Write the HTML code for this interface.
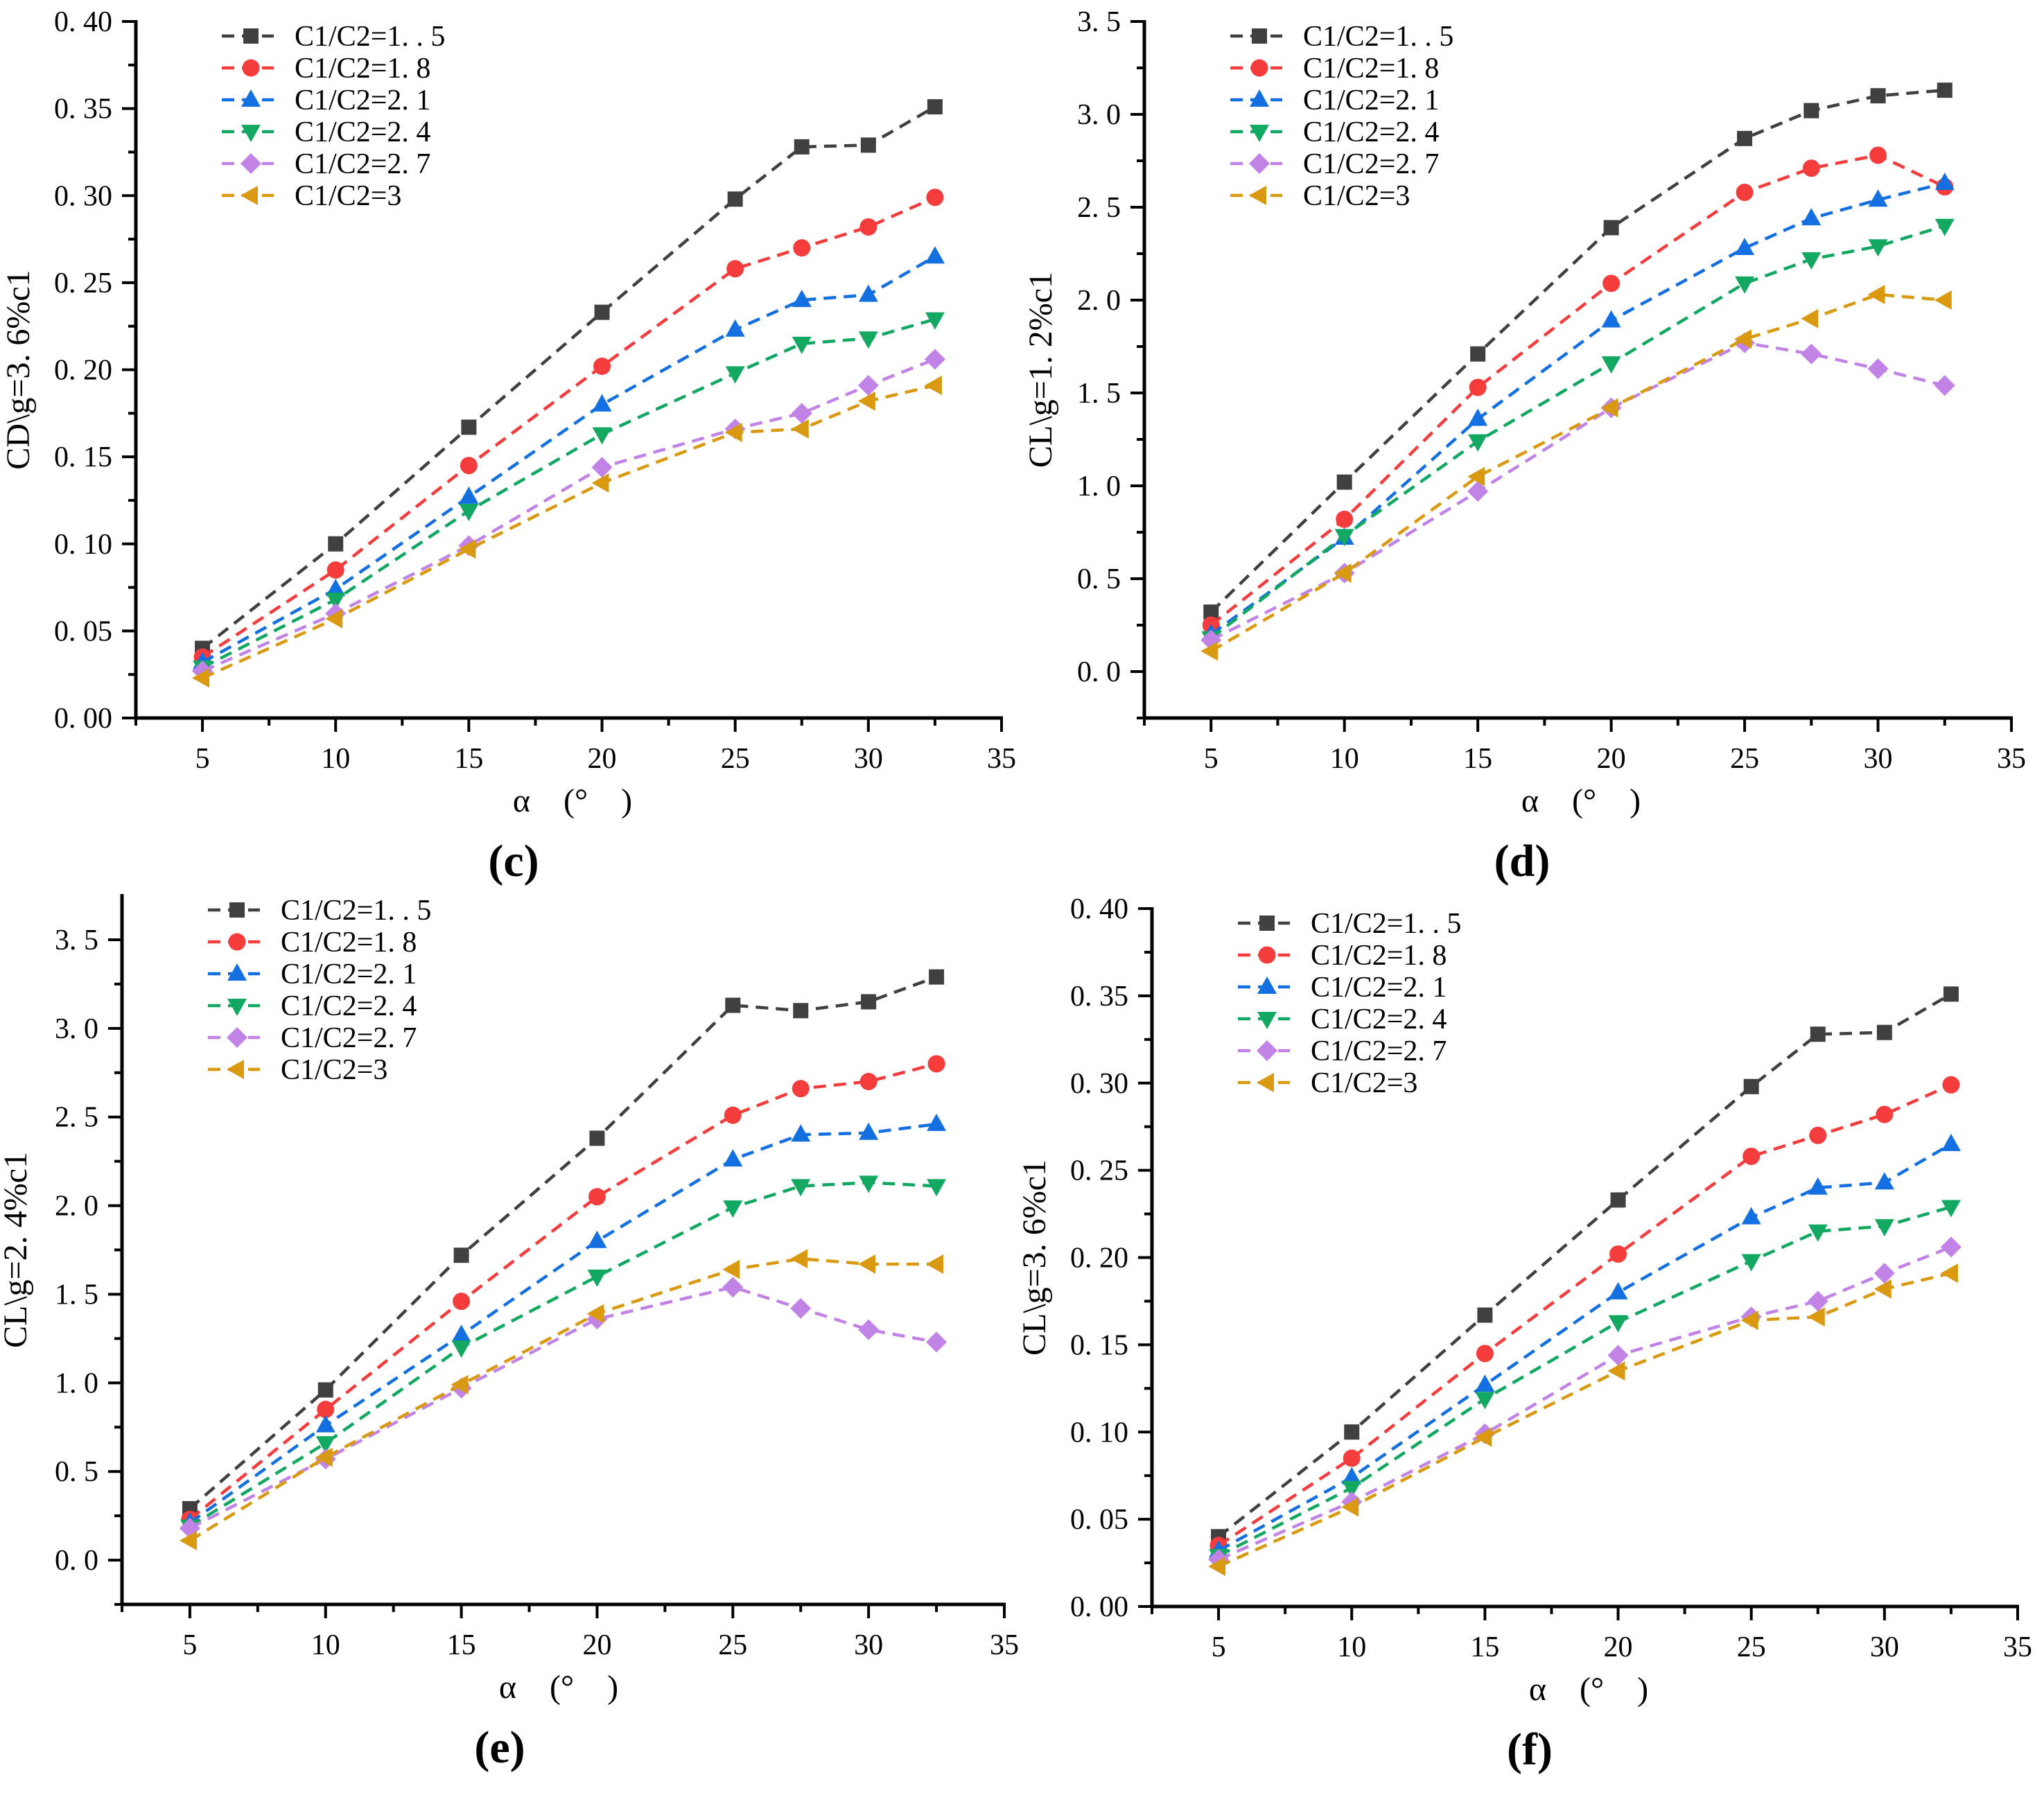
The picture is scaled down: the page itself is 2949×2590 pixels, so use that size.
<!DOCTYPE html>
<html><head><meta charset="utf-8"><style>
html,body{margin:0;padding:0;background:#fff;}
svg{display:block;}
text{font-family:"Liberation Serif","Noto Serif CJK SC",serif;}
.pre{white-space:pre;}
</style></head>
<body>
<svg id="fig" width="2949" height="2590" viewBox="0 0 2949 2590" xmlns="http://www.w3.org/2000/svg"></svg>
<script>
const xValues=[5,10,15,20,25,27.5,30,32.5];
const seriesNames=["C1/C2=1. . 5","C1/C2=1. 8","C1/C2=2. 1","C1/C2=2. 4","C1/C2=2. 7","C1/C2=3"];
const cdData15=[.040,.100,.167,.233,.298,.328,.329,.351];
const cdData18=[.035,.085,.145,.202,.258,.270,.282,.299];
const cdData21=[.032,.074,.127,.180,.223,.240,.243,.265];
const cdData24=[.029,.068,.119,.163,.198,.215,.218,.229];
const cdData27=[.027,.060,.099,.144,.166,.175,.191,.206];
const cdData30=[.023,.057,.097,.135,.164,.166,.182,.191];
const d15=[.32,1.02,1.71,2.39,2.87,3.02,3.10,3.13];
const d18=[.25,.82,1.53,2.09,2.58,2.71,2.78,2.61];
const d21=[.20,.72,1.36,1.89,2.28,2.44,2.54,2.63];
const d24=[.18,.73,1.24,1.66,2.09,2.22,2.29,2.40];
const d27=[.17,.53,.97,1.42,1.77,1.71,1.63,1.54];
const d30=[.11,.53,1.05,1.42,1.79,1.90,2.03,2.00];
const e15=[.29,.96,1.72,2.38,3.13,3.10,3.15,3.29];
const e18=[.23,.85,1.46,2.05,2.51,2.66,2.70,2.80];
const e21=[.21,.76,1.27,1.80,2.26,2.40,2.41,2.46];
const e24=[.19,.66,1.20,1.60,1.99,2.11,2.13,2.11];
const e27=[.18,.57,.97,1.36,1.54,1.42,1.30,1.23];
const e30=[.11,.58,.99,1.39,1.64,1.70,1.67,1.67];
const xTicks=[5,10,15,20,25,30,35];
const yTicksCD=["0. 00","0. 05","0. 10","0. 15","0. 20","0. 25","0. 30","0. 35","0. 40"];
const yTicksCL=["0. 0","0. 5","1. 0","1. 5","2. 0","2. 5","3. 0","3. 5"];

const colors=["#404040","#f53c3c","#1470e0","#12a862","#c283e6","#d99a12"];
const markers=["square","circle","up","down","diamond","left"];
const NS="http://www.w3.org/2000/svg";
const svg=document.getElementById('fig');
function el(tag,attrs,parent){const e=document.createElementNS(NS,tag);for(const k in attrs)e.setAttribute(k,attrs[k]);(parent||svg).appendChild(e);return e;}

function marker(g,type,x,y,c){
  let m;
  if(type==="square")m=el('rect',{x:x-11,y:y-11,width:22,height:22,fill:c},g);
  else if(type==="circle")m=el('circle',{cx:x,cy:y,r:12.5,fill:c},g);
  else{let p;
    if(type==="up")p=[[x,y-15],[x+14,y+10],[x-14,y+10]];
    else if(type==="down")p=[[x,y+15],[x+14,y-10],[x-14,y-10]];
    else if(type==="diamond")p=[[x,y-15],[x+15,y],[x,y+15],[x-15,y]];
    else p=[[x-15,y],[x+10,y-14],[x+10,y+14]];
    m=el('polygon',{points:p.map(q=>q.join(',')).join(' '),fill:c},g);}
  return m;
}

function panel(cfg){
  const g=el('g',{});
  
  
  const L=cfg.L,R=cfg.R,T=cfg.T,B=cfg.B;
  const xs=v=>L+(v-2.5)/(35-2.5)*(R-L);
  const ys=v=>B-(v-cfg.ymin)/(cfg.ymax-cfg.ymin)*(B-T);
  cfg.series.forEach((arr,i)=>{
    const sg=el('g',{},g);
    
    
    const pts=arr.map((v,j)=>xs(xValues[j])+','+ys(v)).join(' ');
    el('polyline',{points:pts,fill:'none',stroke:colors[i],'stroke-width':4.5,'stroke-dasharray':'18,11'},sg);
    arr.forEach((v,j)=>{const m=marker(sg,markers[i],xs(xValues[j]),ys(v),colors[i]);
      
      });
  });
  const ax=el('g',{},g);
  
  
  el('line',{x1:L,y1:T-2,x2:L,y2:B+2,stroke:'#000','stroke-width':5},ax);
  el('line',{x1:L-2,y1:B,x2:R+2,y2:B,stroke:'#000','stroke-width':5},ax);
  for(let v=2.5;v<=35.01;v+=2.5){
    const major=Math.abs(v%5)<0.01;
    el('line',{x1:xs(v),y1:B,x2:xs(v),y2:B+(major?20:11),stroke:'#000','stroke-width':4},ax);
  }
  xTicks.forEach(v=>{const t=el('text',{x:xs(v),y:B+72,'font-size':42,'text-anchor':'middle'},ax);t.textContent=v;
    });
  cfg.ylabels.forEach((lab,i)=>{
    const v=cfg.y0+i*cfg.ystep;const y=ys(v);
    el('line',{x1:L,y1:y,x2:L-20,y2:y,stroke:'#000','stroke-width':4},ax);
    const ym=ys(v+cfg.ystep/2);
    if(v+cfg.ystep/2<cfg.ymax)el('line',{x1:L,y1:ym,x2:L-11,y2:ym,stroke:'#000','stroke-width':4},ax);
    const t=el('text',{x:L-34,y:y+14,'font-size':42,'text-anchor':'end'},ax);t.textContent=lab;
    
  });
  if(cfg.ymin<cfg.y0){const ym=ys(cfg.y0-cfg.ystep/2);el('line',{x1:L,y1:ym,x2:L-11,y2:ym,stroke:'#000','stroke-width':4},ax);}
  const cy=(T+B)/2,cx=L-cfg.yoff;
  const yt=el('text',{x:cx,y:cy,'font-size':48,'text-anchor':'middle',transform:`rotate(-90 ${cx} ${cy})`},g);
  yt.textContent=cfg.ytitle;
  
  const xt=el('text',{x:L+630,y:B+135,'font-size':48,'text-anchor':'middle','class':'pre'},g);
  xt.textContent='α    (°    )';
  
  const pl=el('text',{x:L+545,y:B+228,'font-size':66,'font-weight':'bold','text-anchor':'middle'},g);
  pl.textContent='('+cfg.id+')';
  
  const lg=el('g',{},g);
  
  seriesNames.forEach((n,i)=>{
    const e=el('g',{},lg);
    
    const y=T+21+i*46,x0=L+124;
    el('line',{x1:x0,y1:y,x2:x0+75,y2:y,stroke:colors[i],'stroke-width':4.5,'stroke-dasharray':'18,11'},e);
    marker(e,markers[i],x0+42,y,colors[i]);
    const t=el('text',{x:x0+105,y:y+14,'font-size':42},e);t.textContent=n;
  });
}

panel({id:'c',L:196,R:1445,T:31,B:1036,ymin:0,ymax:0.4,y0:0,ystep:0.05,ylabels:yTicksCD,ytitle:'CD\\g=3. 6%c1',yoff:154,
  series:[cdData15,cdData18,cdData21,cdData24,cdData27,cdData30]});
panel({id:'d',L:1651,R:2902,T:31,B:1036,ymin:-0.25,ymax:3.5,y0:0,ystep:0.5,ylabels:yTicksCL,ytitle:'CL\\g=1. 2%c1',yoff:134,
  series:[d15,d18,d21,d24,d27,d30]});
panel({id:'e',L:176,R:1449,T:1292,B:2315,ymin:-0.25,ymax:3.75,y0:0,ystep:0.5,ylabels:yTicksCL,ytitle:'CL\\g=2. 4%c1',yoff:138,
  series:[e15,e18,e21,e24,e27,e30]});
panel({id:'f',L:1662,R:2911,T:1311,B:2318,ymin:0,ymax:0.4,y0:0,ystep:0.05,ylabels:yTicksCD,ytitle:'CL\\g=3. 6%c1',yoff:154,
  series:[cdData15,cdData18,cdData21,cdData24,cdData27,cdData30]});
</script>
</body></html>
